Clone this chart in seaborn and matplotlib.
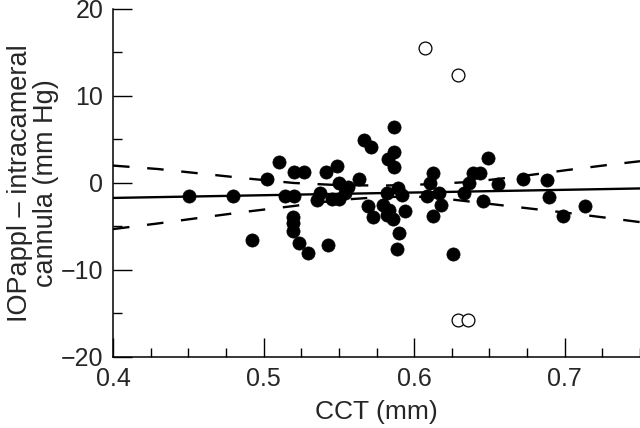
import matplotlib
matplotlib.use("Agg")
import matplotlib.pyplot as plt
from matplotlib.ticker import MultipleLocator
import seaborn as sns
import pandas as pd

# =========================
# Data
# =========================

cct = [0.4506, 0.480, 0.4926, 0.5025, 0.510, 0.514, 0.5205, 0.5205, 0.527,
       0.5198, 0.5198, 0.5198, 0.5232, 0.5298, 0.5427, 0.5415, 0.549, 0.5633,
       0.5504, 0.5563, 0.5375, 0.5353, 0.5453, 0.5504, 0.5542, 0.567, 0.5714,
       0.5863, 0.5863, 0.5823, 0.5863, 0.5818, 0.5896, 0.5918, 0.5796, 0.5696,
       0.5836, 0.594, 0.5725, 0.5862, 0.5818, 0.590, 0.5887, 0.6124, 0.649,
       0.6122, 0.6394, 0.6439, 0.6106, 0.6365, 0.6556, 0.6722, 0.6083, 0.6166,
       0.6328, 0.6177, 0.6456, 0.6261, 0.688, 0.6893, 0.6988, 0.7136]
iop_diff = [-1.5, -1.5, -6.5, 0.5, 2.4, -1.5, -1.5, 1.3, 1.3,
            -3.9, -4.6, -5.5, -6.9, -8.1, -7.1, 1.3, 2.0, 0.5,
            0.0, -0.5, -1.1, -2.0, -1.9, -1.8, -1.2, 4.9, 4.1,
            6.4, 3.6, 2.8, 1.8, -1.2, -0.6, -1.4, -2.5, -2.7,
            -3.1, -3.2, -3.9, -4.1, -3.7, -5.7, -7.6, -3.8, 2.9,
            1.1, 1.2, 1.2, 0.0, 0.0, -0.1, 0.5, -1.5, -1.1,
            -1.2, -2.5, -2.1, -8.2, 0.3, -1.6, -3.8, -2.7]

# excluded outliers (open circles)
out_cct = [0.6069, 0.629, 0.629, 0.636]
out_diff = [15.5, 12.4, -15.8, -15.8]

# regression line and 95% confidence limits
fit_x = [0.40, 0.75]
fit_y = [-1.72, -0.63]

band_x = [0.40, 0.43, 0.46, 0.49, 0.52, 0.55, 0.58, 0.61, 0.64, 0.67, 0.70, 0.73, 0.75]
band_upper = [2.0, 1.6, 1.05, 0.5, 0.0, -0.25, -0.3, -0.15, 0.15, 0.75, 1.45, 2.1, 2.5]
band_lower = [-5.3, -4.65, -3.95, -3.27, -2.65, -1.95, -1.6, -1.6, -2.2, -2.8, -3.4, -4.05, -4.5]

points = pd.DataFrame({"cct": cct, "diff": iop_diff})
outliers = pd.DataFrame({"cct": out_cct, "diff": out_diff})

# =========================
# Plot
# =========================

sns.set_style("ticks")
plt.rcParams["font.family"] = ["Liberation Sans", "DejaVu Sans"]

fig = plt.figure(figsize=(6.4, 4.28), dpi=100)
ax = fig.add_axes([0.1766, 0.166, 0.8234, 0.813])

sns.lineplot(x=band_x, y=band_upper, ax=ax, color="black", lw=1.7,
             sort=False, estimator=None)
sns.lineplot(x=band_x, y=band_lower, ax=ax, color="black", lw=1.7,
             sort=False, estimator=None)
for line in ax.lines:
    line.set_dashes((7, 7.5))

sns.lineplot(x=fit_x, y=fit_y, ax=ax, color="black", lw=1.7,
             sort=False, estimator=None)

sns.scatterplot(data=points, x="cct", y="diff", ax=ax, color="black",
                s=90, edgecolor="black", linewidth=0.5, zorder=3)
sns.scatterplot(data=outliers, x="cct", y="diff", ax=ax, facecolor="white",
                s=85, edgecolor="black", linewidth=0.9, zorder=3)

ax.set_xlim(0.4, 0.75)
ax.set_ylim(-20, 20)
ax.xaxis.set_major_locator(MultipleLocator(0.1))
ax.xaxis.set_minor_locator(MultipleLocator(0.025))
ax.yaxis.set_major_locator(MultipleLocator(10))
ax.yaxis.set_minor_locator(MultipleLocator(5))
ax.set_xticks([0.4, 0.5, 0.6, 0.7], ["0.4", "0.5", "0.6", "0.7"])
ax.set_yticks([-20, -10, 0, 10, 20], ["\u221220", "\u221210", "0", "10", "20"])

ax.tick_params(which="major", direction="in", length=13.5, width=1.0,
               labelsize=18, pad=7, color="black")
ax.tick_params(which="minor", direction="in", length=6.5, width=1.0,
               color="black")

for side in ["top", "right"]:
    ax.spines[side].set_visible(False)
for side in ["left", "bottom"]:
    ax.spines[side].set_linewidth(1.1)
    ax.spines[side].set_color("black")

ax.set_xlabel("CCT (mm)", fontsize=19, labelpad=7)
ax.set_ylabel("IOPappl \u2013 intracameral\ncannula (mm Hg)", fontsize=19.5,
              labelpad=1, linespacing=1.0)

fig.savefig("out.png", dpi=100, facecolor="white")
